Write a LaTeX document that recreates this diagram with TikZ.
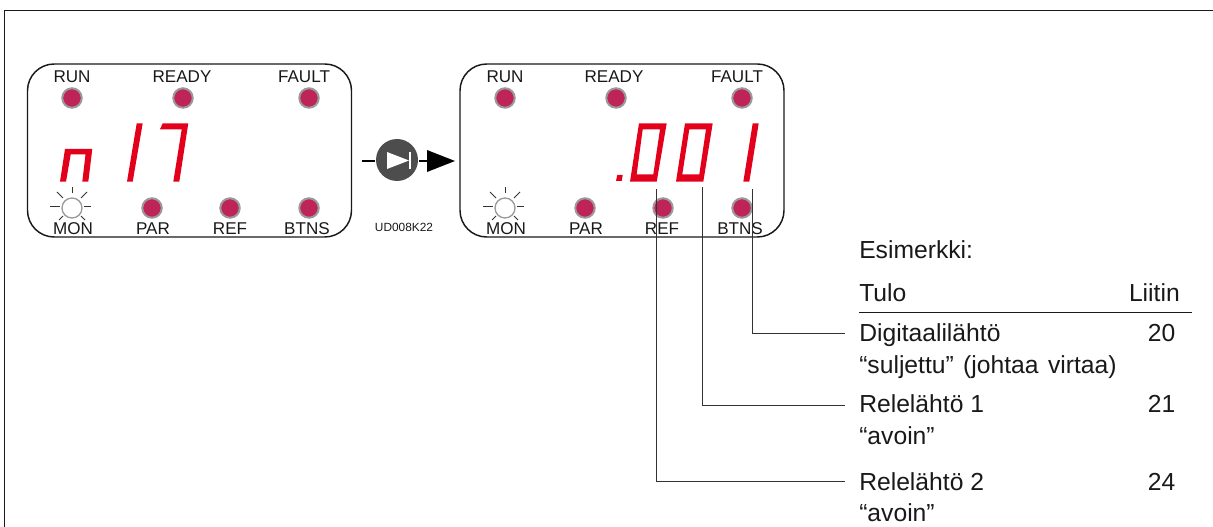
\documentclass[tikz,border=0pt]{standalone}
\usepackage{fontspec}
\setmainfont{Liberation Sans}
\definecolor{led}{HTML}{BE2458}
\definecolor{ledring}{HTML}{9A9A9A}
\definecolor{seg}{HTML}{E2001A}
\definecolor{btn}{HTML}{4D4D4D}
\tikzset{
 ledn/.style={circle,fill=led,draw=ledring,line width=1.5pt,minimum size=14.6pt,inner sep=0pt},
 sunn/.style={circle,fill=white,draw=ledring,line width=1pt,minimum size=15pt,inner sep=0pt},
 ray/.style={line width=0.6pt,black!80},
 panel/.style={draw=black!90,line width=1.1pt,rounded corners=20pt,inner sep=0pt,minimum width=243pt,minimum height=129.75pt},
 lab/.style={font=\fontsize{12.8}{14}\selectfont,anchor=base,inner sep=0pt,text=black!90},
 txt/.style={font=\fontsize{18.5}{20}\selectfont,anchor=base west,inner sep=0pt,text=black!90},
 num/.style={font=\fontsize{18.5}{20}\selectfont,anchor=base,inner sep=0pt,text=black!90},
 leader/.style={line width=0.9pt,black!80},
 segm/.style={fill=seg,draw=none},
}
\newcommand{\sunrays}[2]{%
 \draw[ray] ({#1-22},{#2-2}) -- ({#1-12},{#2-2});
 \draw[ray] ({#1+12},{#2-2}) -- ({#1+19},{#2-2});
 \draw[ray] ({#1},{#2-21}) -- ({#1},{#2-15});
 \draw[ray] ({#1-15},{#2-16}) -- ({#1-9},{#2-10});
 \draw[ray] ({#1+15},{#2-16}) -- ({#1+9},{#2-10});
 \draw[ray] ({#1-13},{#2+12}) -- ({#1-9},{#2+8});
 \draw[ray] ({#1+13},{#2+12}) -- ({#1+9},{#2+8});
}
\begin{document}
\begin{tikzpicture}[x=0.75pt,y=-0.75pt]
\useasboundingbox (0,0) rectangle (1213,527);
\draw[line width=1.1pt,black!90] (4.5,527) -- (4.5,10.5) -- (1213,10.5);
% panels
\node[panel] (p1) at (189.5,150.5) {};
\node[panel] (p2) at (622,150.5) {};
% panel 1
\node[ledn] (a1) at (72,98) {};
\node[ledn] (a2) at (183,98) {};
\node[ledn] (a3) at (309,98) {};
\node[ledn] (a5) at (152,208) {};
\node[ledn] (a6) at (230,208) {};
\node[ledn] (a7) at (309,208) {};
\sunrays{72}{208}
\node[sunn] (a4) at (72,208) {};
\node[lab] (t1) at (72,82.5) {RUN};
\node[lab] (t2) at (182,82.5) {READY};
\node[lab] (t3) at (304,82.5) {FAULT};
\node[lab] (t4) at (73,234.5) {MON};
\node[lab] (t5) at (153,234.5) {PAR};
\node[lab] (t6) at (230,234.5) {REF};
\node[lab] (t7) at (307,234.5) {BTNS};
\fill[segm] (65,149) -- (92.3,149) -- (88.3,181.7) -- (82.3,181.7) -- (85.5,154.5) -- (70.7,154.5) -- (66,181.7) -- (60,181.7) -- cycle;
\fill[segm] (136.7,123.3) -- (142.7,123.3) -- (132.7,181.7) -- (127,181.7) -- cycle;
\fill[segm] (162.7,123.3) -- (188.3,123.3) -- (179.3,181.7) -- (173.3,181.7) -- (181.7,129.3) -- (160,129.3) -- cycle;
% button
\coordinate (inl) at (362,161);
\coordinate (arrtip) at (455,161);
\node[circle,fill=btn,minimum size=31.5pt,inner sep=0pt] (go) at (397,160) {};
\draw[line width=1.5pt,black] (inl) -- (375,161);
\draw[line width=1.5pt,black] (419,161) -- (428,161);
\fill[black] (427,150) -- (arrtip) -- (427,172) -- cycle;
\fill[white] (387,152) -- (409,160.5) -- (387,169) -- cycle;
\draw[white,line width=0.8pt] (410,152) -- (410,169);
\node[font=\fontsize{8.9}{10}\selectfont,anchor=base,inner sep=0pt,text=black!90] (code) at (404,232) {UD008K22};
% panel 2
\node[ledn] (b1) at (505,98) {};
\node[ledn] (b2) at (616,98) {};
\node[ledn] (b3) at (742,98) {};
\node[ledn] (b5) at (585,208) {};
\node[ledn] (b6) at (663,208) {};
\node[ledn] (b7) at (742,208) {};
\sunrays{505}{208}
\node[sunn] (b4) at (505,208) {};
\node[lab] (u1) at (505,82.5) {RUN};
\node[lab] (u2) at (614,82.5) {READY};
\node[lab] (u3) at (737,82.5) {FAULT};
\node[lab] (u4) at (506,234.5) {MON};
\node[lab] (u5) at (586,234.5) {PAR};
\node[lab] (u6) at (662,234.5) {REF};
\node[lab] (u7) at (740,234.5) {BTNS};
\fill[segm] (617.3,175) -- (622.7,175) -- (621.7,181) -- (616,181) -- cycle;
\fill[segm,even odd rule] (639,123.3) -- (666.7,123.3) -- (656.7,181.7) -- (630,181.7) -- cycle
 (642.7,129.3) -- (660,129.3) -- (653.3,174.3) -- (636.7,174.3) -- cycle;
\fill[segm,even odd rule] (685,123.3) -- (712.7,123.3) -- (703.3,181.7) -- (676,181.7) -- cycle
 (689.3,129.3) -- (706,129.3) -- (699.3,174.3) -- (682.3,174.3) -- cycle;
\fill[segm] (752.7,123.3) -- (758.7,123.3) -- (749.3,181.7) -- (743.3,181.7) -- cycle;
% table
\node[txt] (esi) at (859,259) {Esimerkki:};
\node[txt] (tulo) at (859,301) {Tulo};
\node[font=\fontsize{18.5}{20}\selectfont,anchor=base east,inner sep=0pt,text=black!90] (liitin) at (1180,301) {Liitin};
\coordinate (ulL) at (859,312.5);
\coordinate (ulR) at (1192,312.5);
\draw[line width=0.9pt,black!90] (ulL) -- (ulR);
\node[txt] (d1) at (859,341) {Digitaalilähtö};
\node[txt] (d2) at (859,373.5) {“suljettu”\hspace{1.9pt} (johtaa\hspace{1.9pt} virtaa)};
\node[num] (n20) at (1161.5,341) {20};
\node[txt] (r1) at (859,412) {Relelähtö 1};
\node[txt] (r1b) at (859,444.5) {“avoin”};
\node[num] (n21) at (1161.5,412) {21};
\node[txt] (r2) at (859,490) {Relelähtö 2};
\node[txt] (r2b) at (859,521.5) {“avoin”};
\node[num] (n24) at (1161.5,490) {24};
% leaders
\coordinate (c1) at (752.5,189);
\coordinate (c2) at (702.5,187);
\coordinate (c3) at (656.5,189);
\coordinate (e1) at (845,333.5);
\coordinate (e2) at (845,405.5);
\coordinate (e3) at (845,481.5);
\draw[leader] (c1) |- (e1);
\draw[leader] (c2) |- (e2);
\draw[leader] (c3) |- (e3);
\end{tikzpicture}
\end{document}
